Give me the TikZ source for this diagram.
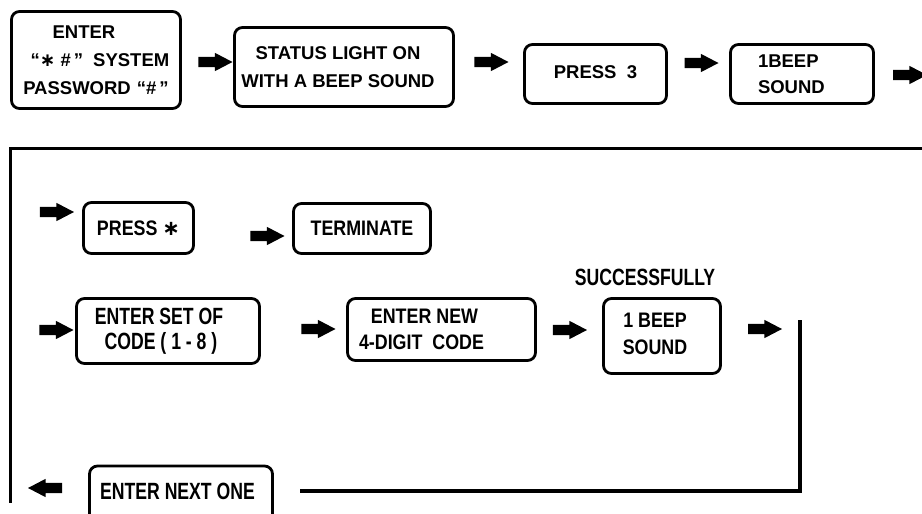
\documentclass[tikz,border=0pt]{standalone}
\usepackage{fontspec}
\setmainfont{Liberation Sans}
\newfontfamily\condA{Liberation Sans}[FakeStretch=0.75]
\newfontfamily\condB{Liberation Sans}[FakeStretch=0.85]
\newfontfamily\symfont{DejaVu Sans}
\usetikzlibrary{shapes.arrows}
\newcommand{\starsym}{{\symfont\bfseries ∗}}
\begin{document}
\begin{tikzpicture}[x=1pt,y=-1pt,
  box/.style={draw, line width=2.8pt, rounded corners=8pt, inner sep=0pt, align=center},
  rowone/.style={font=\fontsize{18.5}{28}\selectfont\bfseries},
  cA/.style={font=\fontsize{23.5}{25}\condA\bfseries},
  cB/.style={font=\fontsize{21}{26}\condB\bfseries},
  blk/.style={single arrow, fill=black, draw=none, minimum height=34pt, minimum width=18pt,
    text height=0pt, text depth=0pt, text width=0pt, inner xsep=0pt, inner ysep=5pt,
    single arrow head extend=4pt, single arrow tip angle=55, single arrow head indent=0pt},
  ln/.style={line width=3pt},
  lnb/.style={line width=4pt}
]
\useasboundingbox (0,0) rectangle (922,514);

% Row 1
\node[box, rowone, minimum width=169pt, minimum height=97pt] (b1) at (96,60)
  {ENTER\hspace*{24pt}\\\hspace*{8pt}“\starsym\ \#\,”\hspace{10pt}SYSTEM\\PASSWORD\hspace{6pt}“\#\,”};
\node[blk] (a1) at (210.5,62) {};
\node[box, rowone, minimum width=219pt, minimum height=79pt] (b2) at (344,67)
  {STATUS LIGHT ON\hspace*{12pt}\\WITH A BEEP SOUND\hspace*{12pt}};
\node[blk] (a2) at (486.5,62) {};
\node[box, rowone, minimum width=142pt, minimum height=59pt] (b3) at (595.5,74)
  {\raisebox{3pt}{PRESS\ \ 3}};
\node[blk] (a3) at (696.5,63) {};
\node[box, rowone, font=\fontsize{18.5}{26}\selectfont\bfseries, minimum width=143pt, minimum height=59pt,
  text width=88pt, align=left] (b4) at (802,74) {1BEEP\\SOUND};
\node[blk] (a4) at (905,75) {};

% frame lines
\coordinate (t1) at (922,148);
\coordinate (t2) at (10,148);
\coordinate (t3) at (10,503);
\draw[ln] (t1) -- (t2) -- (t3);

% Row 2
\node[blk] (a5) at (52,212) {};
\node[box, cB, minimum width=110pt, minimum height=51pt] (b5) at (138.5,228)
  {PRESS \starsym};
\node[blk] (a6) at (262.5,236) {};
\node[box, cB, minimum width=137pt, minimum height=50pt] (b6) at (362,228.5)
  {TERMINATE};

% Row 3
\node[blk] (a7) at (51.5,330) {};
\node[box, cA, minimum width=183pt, minimum height=65pt] (b7) at (168,331)
  {ENTER SET OF\hspace*{18pt}\\CODE ( 1 - 8 )\hspace*{14pt}};
\node[blk] (a8) at (313.5,329) {};
\node[box, cB, minimum width=188pt, minimum height=62pt] (b8) at (441.5,329.5)
  {ENTER NEW\hspace*{34pt}\\4-DIGIT\ \ CODE\hspace*{40pt}};
\node[blk] (a9) at (565,330) {};
\node[cA, inner sep=0pt] (succ) at (645,277) {SUCCESSFULLY};
\node[box, cB, minimum width=117pt, minimum height=75pt] (b9) at (662,336)
  {\raisebox{4.5pt}{\begin{tabular}{@{}c@{}}1 BEEP\hspace*{14pt}\\[1pt]SOUND\hspace*{14pt}\end{tabular}}};
\node[blk] (a10) at (760,329) {};

% return line
\coordinate (r1) at (800,320);
\coordinate (r2) at (800,491);
\coordinate (r3) at (300,491);
\draw[lnb] (r1) -- (r2) -- (r3);

% Row 4
\node[box, cA, minimum width=183pt, minimum height=58pt] (b10) at (181,495)
  {\raisebox{7pt}{ENTER NEXT ONE\hspace*{7pt}}};
\node[blk, shape border rotate=180] (a11) at (50,488) {};
\end{tikzpicture}
\end{document}
